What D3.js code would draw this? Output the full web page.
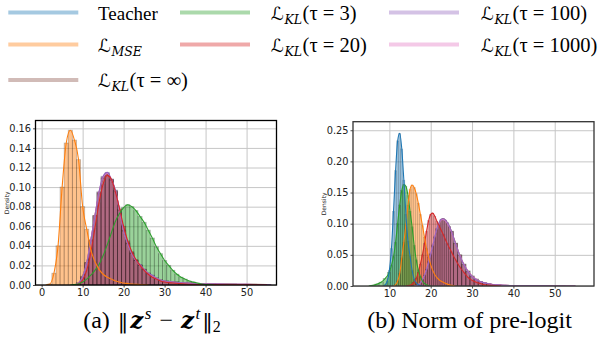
<!DOCTYPE html>
<html>
<head>
<meta charset="utf-8">
<script src="https://cdn.jsdelivr.net/npm/d3@7"></script>
<style>
  body { margin: 0; background: #fff; }
  svg { display: block; }
</style>
</head>
<body>
<div id="chart"></div>
<script>
// series order (hue order of the original plot)
const seriesKeys = ['teacher', 'mse', 'kl3', 'kl20', 'kl100', 'kl1000', 'klInf'];
const seriesColors = ['#1f77b4', '#ff7f0e', '#2ca02c', '#d62728', '#9467bd', '#e377c2', '#8c564b'];

// (a) ||z^s - z^t||_2 : [value, density]
const mseA = [[1,0],[2,0.001],[3,0.012],[4,0.04],[5,0.1],[6,0.145],[7,0.158],[8,0.148],[9,0.128],[10,0.08],[11,0.057],[12,0.036],[13,0.024],[14,0.016],[15,0.011],[16,0.008],[17,0.006],[18,0.004],[19,0.003],[20,0.002],[21,0.0015],[22,0.001],[24,0.0005],[26,0]];
const kl3A = [[7,0],[8,0.0005],[9,0.001],[10,0.003],[11,0.006],[12,0.01],[13,0.015],[14,0.021],[15,0.03],[16,0.041],[17,0.053],[18,0.065],[19,0.073],[20,0.079],[21,0.082],[22,0.08],[23,0.076],[24,0.07],[25,0.064],[26,0.056],[27,0.048],[28,0.039],[29,0.032],[30,0.025],[31,0.02],[32,0.015],[33,0.011],[34,0.008],[35,0.006],[36,0.004],[37,0.003],[38,0.002],[39,0.001],[40,0.0005],[42,0]];
const kl20A = [[8,0],[9,0.001],[10,0.005],[11,0.015],[12,0.033],[13,0.058],[14,0.084],[15,0.103],[16,0.112],[17,0.108],[18,0.095],[19,0.078],[20,0.06],[21,0.045],[22,0.034],[23,0.026],[24,0.02],[25,0.015],[26,0.011],[27,0.008],[28,0.006],[29,0.004],[30,0.003],[32,0.002],[35,0.001],[40,0.0005],[45,0.0003],[50,0.0002],[55,0]];
const kl100A = [[8,0],[9,0.002],[10,0.008],[11,0.022],[12,0.045],[13,0.07],[14,0.095],[15,0.111],[16,0.115],[17,0.108],[18,0.097],[19,0.076],[20,0.055],[21,0.042],[22,0.032],[23,0.025],[24,0.021],[25,0.016],[26,0.012],[27,0.01],[28,0.007],[29,0.005],[30,0.004],[32,0.003],[35,0.002],[40,0.001],[45,0.0008],[50,0.0006],[55,0.0004],[56,0]];
const kl1000A = [[8,0],[9,0.002],[10,0.008],[11,0.023],[12,0.046],[13,0.071],[14,0.095],[15,0.11],[16,0.114],[17,0.108],[18,0.096],[19,0.076],[20,0.055],[21,0.042],[22,0.032],[23,0.025],[24,0.02],[25,0.016],[26,0.012],[27,0.009],[28,0.007],[29,0.005],[30,0.004],[32,0.003],[35,0.002],[40,0.001],[45,0.0008],[50,0.0006],[55,0.0004],[56,0]];
const klInfA = [[8,0],[9,0.002],[10,0.009],[11,0.023],[12,0.046],[13,0.071],[14,0.094],[15,0.109],[16,0.113],[17,0.107],[18,0.096],[19,0.077],[20,0.056],[21,0.043],[22,0.033],[23,0.025],[24,0.02],[25,0.016],[26,0.012],[27,0.009],[28,0.007],[29,0.005],[30,0.004],[32,0.003],[35,0.002],[40,0.0012],[45,0.0009],[50,0.0007],[55,0.0005],[56,0]];

// (b) norm of pre-logit : [value, density]
const teacherB = [[8.5,0],[9,0.002],[9.5,0.008],[10,0.025],[10.5,0.06],[11,0.12],[11.5,0.185],[12,0.233],[12.5,0.245],[13,0.22],[13.5,0.17],[14,0.115],[14.5,0.072],[15,0.048],[15.5,0.025],[16,0.011],[16.5,0.005],[17,0.002],[18,0]];
const mseB = [[11,0],[11.5,0.002],[12,0.008],[12.5,0.02],[13,0.045],[13.5,0.07],[14,0.098],[14.5,0.13],[15,0.155],[15.5,0.162],[16,0.158],[16.5,0.148],[17,0.133],[17.5,0.115],[18,0.097],[18.5,0.078],[19,0.06],[19.5,0.046],[20,0.034],[21,0.018],[22,0.01],[23,0.006],[24,0.003],[25,0.001],[26,0]];
const kl3B = [[5,0],[6,0.001],[7,0.003],[8,0.006],[9,0.012],[10,0.022],[10.5,0.033],[11,0.047],[11.5,0.07],[12,0.1],[12.5,0.13],[13,0.153],[13.5,0.163],[14,0.16],[14.5,0.145],[15,0.12],[15.5,0.095],[16,0.065],[16.5,0.042],[17,0.026],[17.5,0.015],[18,0.008],[18.5,0.004],[19,0.002],[20,0]];
const kl20B = [[14,0],[15,0.001],[16,0.006],[16.5,0.012],[17,0.022],[17.5,0.035],[18,0.05],[18.5,0.068],[19,0.088],[19.5,0.105],[20,0.115],[20.5,0.117],[21,0.112],[21.5,0.104],[22,0.097],[23,0.083],[24,0.068],[25,0.055],[26,0.042],[27,0.031],[28,0.022],[29,0.014],[30,0.009],[31,0.006],[32,0.004],[33,0.002],[35,0.001],[37,0]];
const kl100B = [[16,0],[17,0.002],[17.5,0.005],[18,0.01],[18.5,0.017],[19,0.026],[19.5,0.038],[20,0.051],[20.5,0.065],[21,0.079],[21.5,0.092],[22,0.101],[22.5,0.107],[23,0.108],[23.5,0.106],[24,0.102],[24.5,0.096],[25,0.088],[26,0.068],[27,0.049],[28,0.034],[29,0.023],[30,0.015],[31,0.01],[32,0.007],[33,0.005],[34,0.0035],[35,0.0025],[36,0.0018],[38,0.001],[40,0.0005],[45,0.0002],[50,0.0001],[55,0]];
const kl1000B = [[16,0],[17,0.002],[17.5,0.005],[18,0.01],[18.5,0.017],[19,0.027],[19.5,0.039],[20,0.052],[20.5,0.066],[21,0.08],[21.5,0.092],[22,0.1],[22.5,0.106],[23,0.107],[23.5,0.105],[24,0.101],[24.5,0.095],[25,0.087],[26,0.068],[27,0.05],[28,0.035],[29,0.024],[30,0.016],[31,0.011],[32,0.007],[33,0.005],[34,0.0035],[35,0.0025],[36,0.0018],[38,0.001],[40,0.0005],[45,0.0002],[50,0.0001],[55,0]];
const klInfB = [[16,0],[17,0.002],[17.5,0.005],[18,0.01],[18.5,0.016],[19,0.026],[19.5,0.037],[20,0.05],[20.5,0.064],[21,0.078],[21.5,0.091],[22,0.1],[22.5,0.106],[23,0.108],[23.5,0.106],[24,0.102],[24.5,0.096],[25,0.088],[26,0.069],[27,0.05],[28,0.035],[29,0.024],[30,0.016],[31,0.011],[32,0.007],[33,0.005],[34,0.0035],[35,0.0025],[36,0.0018],[38,0.001],[40,0.0005],[45,0.0002],[50,0.0001],[55,0]];

// ticks
const xTicksA = [0, 10, 20, 30, 40, 50];
const yTicksA = [0, 0.02, 0.04, 0.06, 0.08, 0.10, 0.12, 0.14, 0.16];
const xTicksB = [10, 20, 30, 40, 50];
const yTicksB = [0, 0.05, 0.10, 0.15, 0.20, 0.25];

// legend
const legendSubs = [null, 'MSE', 'KL', 'KL', 'KL', 'KL', 'KL'];
const legendTexts = ['Teacher', '', '(τ = 3)', '(τ = 20)', '(τ = 100)', '(τ = 1000)', '(τ = ∞)'];

const W = 607, H = 356;
const svg = d3.select('#chart').append('svg').attr('width', W).attr('height', H);

function drawPanel(id, box, xDomain, yMax, xTicks, yTicks, seriesData, spineColor) {
    const x = d3.scaleLinear().domain(xDomain).range([box.left, box.right]);
    const y = d3.scaleLinear().domain([0, yMax]).range([box.bottom, box.top]);
    const g = svg.append('g').attr('class', 'panel-' + id);

    g.append('clipPath').attr('id', 'clip-' + id)
        .append('rect')
        .attr('x', box.left).attr('y', box.top)
        .attr('width', box.right - box.left).attr('height', box.bottom - box.top);

    // grid
    g.append('g')
        .attr('transform', `translate(0, ${box.bottom})`)
        .call(d3.axisBottom(x).tickValues(xTicks).tickSize(-(box.bottom - box.top)).tickFormat(''))
        .call(s => s.select('.domain').remove())
        .selectAll('line').attr('stroke', '#c6c6c6').attr('stroke-width', 1);
    g.append('g')
        .attr('transform', `translate(${box.left}, 0)`)
        .call(d3.axisLeft(y).tickValues(yTicks).tickSize(-(box.right - box.left)).tickFormat(''))
        .call(s => s.select('.domain').remove())
        .selectAll('line').attr('stroke', '#c6c6c6').attr('stroke-width', 1);

    const plot = g.append('g').attr('clip-path', `url(#clip-${id})`);

    // histograms: later hues are layered on top, faint dark bar edges
    seriesData.forEach(s => {
        const pts = s.data;
        const bars = pts.map((p, i) => {
            const x0 = i === 0 ? p[0] - (pts[1][0] - p[0]) / 2 : (pts[i - 1][0] + p[0]) / 2;
            const x1 = i === pts.length - 1 ? p[0] + (p[0] - pts[i - 1][0]) / 2 : (p[0] + pts[i + 1][0]) / 2;
            return {x0, x1, d: p[1]};
        }).filter(b => b.d > 0);
        plot.append('g').selectAll('rect')
            .data(bars)
            .enter()
            .append('rect')
            .attr('x', b => x(b.x0))
            .attr('y', b => y(b.d))
            .attr('width', b => x(b.x1) - x(b.x0))
            .attr('height', b => y(0) - y(b.d))
            .attr('fill', s.color)
            .attr('fill-opacity', 0.48)
            .attr('stroke', '#000')
            .attr('stroke-opacity', 0.22)
            .attr('stroke-width', b => Math.min(0.9, 0.22 * (x(b.x1) - x(b.x0))));
    });

    const line = d3.line()
        .x(p => x(p[0]))
        .y(p => y(p[1]))
        .curve(d3.curveMonotoneX);

    seriesData.slice().reverse().forEach(s => {
        plot.append('path')
            .datum(s.data)
            .attr('d', line)
            .attr('fill', 'none')
            .attr('stroke', s.color)
            .attr('stroke-width', 1.1);
    });

    // axes
    const xAxis = g.append('g')
        .attr('transform', `translate(0, ${box.bottom})`)
        .call(d3.axisBottom(x).tickValues(xTicks).tickSize(2.5).tickPadding(1.5).tickFormat(d3.format('d')));
    const yAxis = g.append('g')
        .attr('transform', `translate(${box.left}, 0)`)
        .call(d3.axisLeft(y).tickValues(yTicks).tickSize(2.5).tickPadding(2).tickFormat(d3.format('.2f')));
    [xAxis, yAxis].forEach(a => {
        a.select('.domain').remove();
        a.selectAll('text').attr('font-family', 'DejaVu Sans').attr('font-size', 9.8).attr('fill', '#222');
        a.selectAll('line').attr('stroke', '#222').attr('stroke-width', 0.8);
    });

    // spines
    g.append('rect')
        .attr('x', box.left).attr('y', box.top)
        .attr('width', box.right - box.left).attr('height', box.bottom - box.top)
        .attr('fill', 'none')
        .attr('stroke', spineColor)
        .attr('stroke-width', 1.3);

    g.append('text')
        .attr('transform', `translate(${box.left - 27}, ${(box.top + box.bottom) / 2}) rotate(-90)`)
        .attr('text-anchor', 'middle')
        .attr('font-family', 'DejaVu Sans')
        .attr('font-size', 6)
        .attr('fill', '#222')
        .text('Density');
}

const colorOf = k => seriesColors[seriesKeys.indexOf(k)];

drawPanel('a', {left: 35.5, right: 276.5, top: 120.5, bottom: 285}, [-1.5, 57.3], 0.168, xTicksA, yTicksA, [
    {key: 'mse', data: mseA},
    {key: 'kl3', data: kl3A},
    {key: 'kl20', data: kl20A},
    {key: 'kl100', data: kl100A},
    {key: 'kl1000', data: kl1000A},
    {key: 'klInf', data: klInfA}
].map(s => ({...s, color: colorOf(s.key)})), '#000');

drawPanel('b', {left: 353, right: 594, top: 121.7, bottom: 286}, [1.2, 59.5], 0.2637, xTicksB, yTicksB, [
    {key: 'teacher', data: teacherB},
    {key: 'mse', data: mseB},
    {key: 'kl3', data: kl3B},
    {key: 'kl20', data: kl20B},
    {key: 'kl100', data: kl100B},
    {key: 'kl1000', data: kl1000B},
    {key: 'klInf', data: klInfB}
].map(s => ({...s, color: colorOf(s.key)})), '#333');

// legend: 3 columns filled column-wise (3, 2, 2)
const colLineX = [8.3, 180, 389];
const colTextX = [98, 271, 481];
const rowY = [12.5, 44.5, 80];
const slots = [[0, 0], [0, 1], [1, 0], [1, 1], [2, 0], [2, 1], [0, 2]];

const legend = svg.append('g').attr('class', 'legend');
seriesKeys.forEach((k, i) => {
    const [c, r] = slots[i];
    const item = legend.append('g');
    item.append('line')
        .attr('x1', colLineX[c]).attr('x2', colLineX[c] + 70)
        .attr('y1', rowY[r]).attr('y2', rowY[r])
        .attr('stroke', seriesColors[i])
        .attr('stroke-opacity', 0.4)
        .attr('stroke-width', 4);
    const t = item.append('text')
        .attr('x', colTextX[c]).attr('y', rowY[r] + 7)
        .attr('font-family', 'Liberation Serif')
        .attr('font-size', 19)
        .attr('fill', '#000');
    if (legendSubs[i] === null) {
        t.text(legendTexts[i]);
    } else {
        t.append('tspan').attr('font-family', 'DejaVu Sans').attr('font-size', 18).text('ℒ');
        t.append('tspan').attr('font-family', 'DejaVu Serif').attr('font-style', 'italic')
            .attr('font-size', 12.5).attr('dy', 4).attr('dx', 0.5).text(legendSubs[i]);
        if (legendTexts[i]) {
            t.append('tspan').attr('font-family', 'Liberation Serif').attr('font-size', 20.5)
                .attr('dy', -4).attr('dx', 0.5).text(legendTexts[i]);
        }
    }
});

// captions
const capA = svg.append('text')
    .attr('x', 152).attr('y', 328)
    .attr('text-anchor', 'middle')
    .attr('font-family', 'Liberation Serif')
    .attr('font-size', 24)
    .attr('fill', '#000');
capA.append('tspan').text('(a) ');
capA.append('tspan').attr('font-family', 'DejaVu Serif').attr('font-size', 21).attr('dx', 2).text('‖');
capA.append('tspan').attr('font-family', 'DejaVu Serif').attr('font-size', 23).attr('dx', 2).attr('font-weight', 'bold').attr('font-style', 'italic').text('z');
capA.append('tspan').attr('font-style', 'italic').attr('font-size', 17).attr('dy', -9).attr('dx', 1.5).text('s');
capA.append('tspan').attr('dy', 9).attr('dx', 2).text(' − ');
capA.append('tspan').attr('font-family', 'DejaVu Serif').attr('font-size', 23).attr('dx', 2).attr('font-weight', 'bold').attr('font-style', 'italic').text('z');
capA.append('tspan').attr('font-style', 'italic').attr('font-size', 17).attr('dy', -9).attr('dx', 1.5).text('t');
capA.append('tspan').attr('font-family', 'DejaVu Serif').attr('font-size', 21).attr('dy', 9).attr('dx', 2).text('‖');
capA.append('tspan').attr('font-size', 16).attr('dy', 4).text('2');

svg.append('text')
    .attr('x', 469.5).attr('y', 328)
    .attr('text-anchor', 'middle')
    .attr('font-family', 'Liberation Serif')
    .attr('font-size', 24)
    .attr('fill', '#000')
    .text('(b) Norm of pre-logit');
</script>
</body>
</html>
